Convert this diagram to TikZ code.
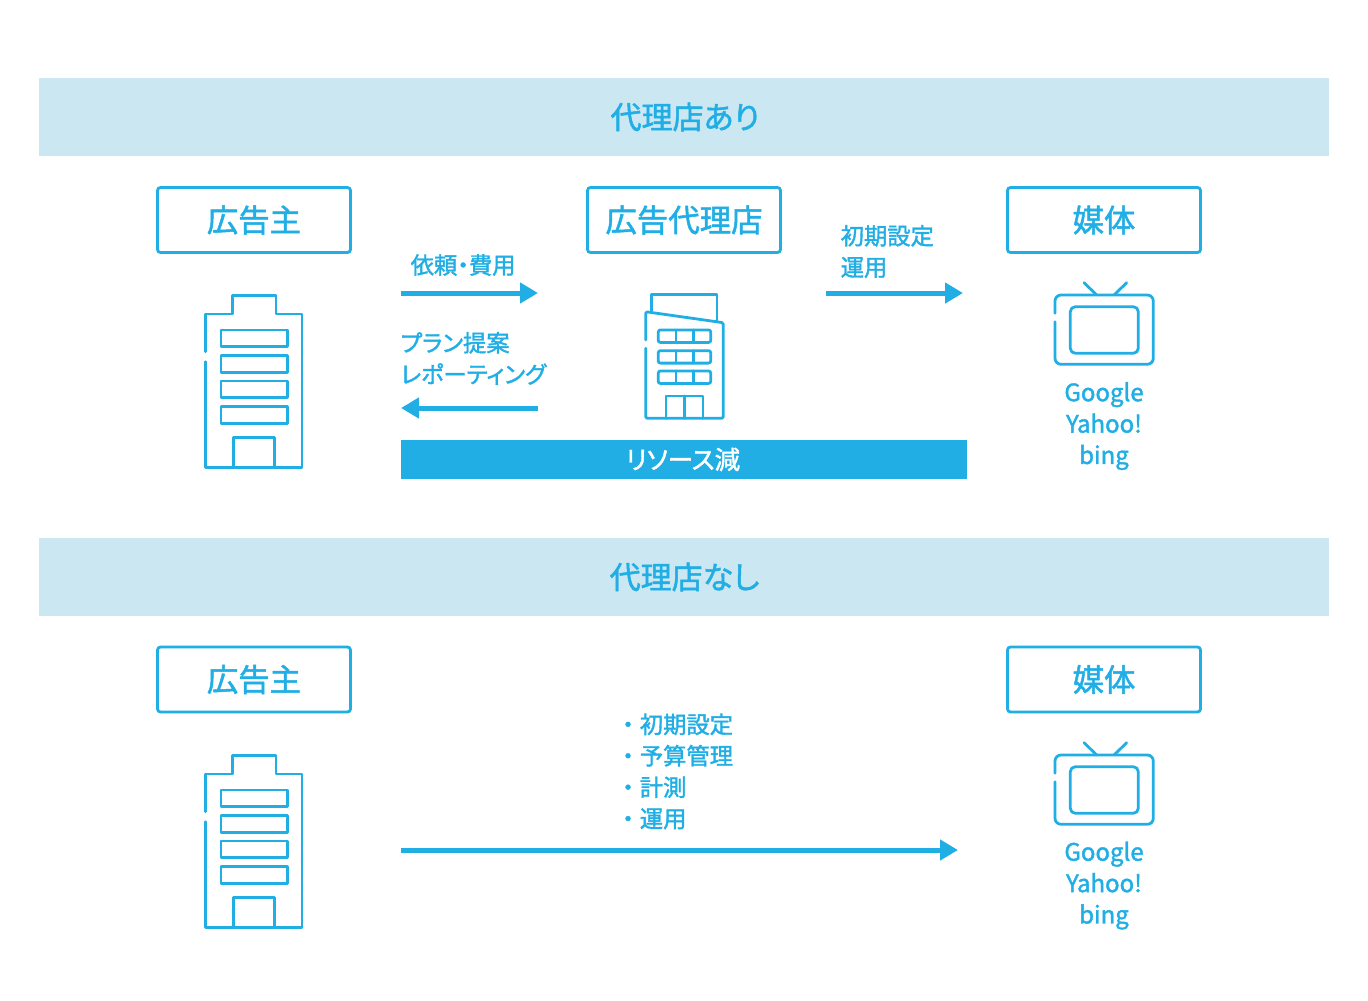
\documentclass[tikz,border=0pt]{standalone}
\usepackage{fontspec}
\setmainfont{Noto Sans CJK JP}[RawFeature={+palt}, FakeBold=1.6]
\usetikzlibrary{positioning,arrows.meta}
\definecolor{adblue}{HTML}{20AEE5}
\definecolor{adpale}{HTML}{CAE7F2}
\newcommand{\dotkern}{・\kern6pt}
\tikzset{
    band/.style={fill=adpale, text=adblue, minimum width=1290pt, minimum height=78pt, inner sep=0pt, font=\fontsize{31}{36}\selectfont},
    namebox/.style={draw=adblue, line width=2.8pt, rounded corners=3pt, text=adblue, minimum width=193pt, minimum height=65pt, inner sep=0pt, font=\fontsize{31.4}{36}\selectfont},
    lbl/.style={text=adblue, inner sep=0pt, align=left, font=\fontsize{23.3}{31.4}\selectfont},
    mediatext/.style={text=adblue, inner sep=0pt, align=center, font=\fontsize{24}{31.4}\selectfont},
    flow/.style={draw=adblue, line width=5pt, -{Triangle[length=18pt,width=20pt]}},
    icon/.style={draw=adblue, line width=2.8pt, line join=round, line cap=round},
    clienticon/.pic={
        \draw[icon] (205.7,351.7) -- (205.7,314) -- (232.3,314) -- (232.3,295.7) -- (276,295.7) -- (276,314) -- (302,314) -- (302,467.7) -- (205.7,467.7) -- (205.7,361.7);
        \foreach \wy in {330,355.7,381,406.7}
            \draw[icon] (221,\wy) rectangle (287.3,\wy+16.7);
        \draw[icon] (233.7,467.7) -- (233.7,437.3) -- (274.3,437.3) -- (274.3,467.7);
    },
    agencyicon/.pic={
        \draw[icon] (651.7,311) -- (651.7,294.3) -- (717,294.3) -- (717,320.7);
        \draw[icon, rounded corners=1.5pt] (645.7,340) -- (645.7,311.7) -- (723.3,322.7) -- (723.3,418.3) -- (645.7,418.3) -- (645.7,348.3);
        \foreach \wy in {330,350.7,371} {
            \draw[icon, rounded corners=2pt] (658.3,\wy) rectangle (710.7,\wy+12.4);
            \draw[icon] (676,\wy) -- (676,\wy+12.4);
            \draw[icon] (693.3,\wy) -- (693.3,\wy+12.4);
        }
        \draw[icon] (666,418.3) -- (666,396) -- (703,396) -- (703,418.3);
        \draw[icon] (684.3,396) -- (684.3,418.3);
    },
    tvicon/.pic={
        \draw[icon, rounded corners=6pt] (1055,313.3) -- (1055,295) -- (1153.3,295) -- (1153.3,364.3) -- (1055,364.3) -- (1055,321.7);
        \draw[icon, rounded corners=5pt] (1070.3,306.7) rectangle (1138.3,353.3);
        \draw[icon] (1096.7,295) -- (1084,282.7);
        \draw[icon] (1114,295) -- (1126.7,282.7);
    },
}
\begin{document}
\begin{tikzpicture}[x=1pt, y=-1pt]
    \useasboundingbox (0,0) rectangle (1368,1001);

    % with agency
    \node [band] (withband) at (684,117) {\kern2pt 代理店あり};
    \node [namebox] (client) at (254,220) {広告主};
    \node [namebox] (agency) at (684,220) {広告代理店};
    \node [namebox] (media) at (1104,220) {媒体};
    \pic (clientbldg) at (0,0) {clienticon};
    \pic (agencybldg) at (0,0) {agencyicon};
    \pic (mediatv) at (0,0) {tvicon};
    \node [mediatext] (medianames) at (1104,426) {Google\\Yahoo!\\bing};

    \node [lbl, anchor=west] (request) at (410.5,265) {依頼・費用};
    \coordinate (reqstart) at (401,293);
    \coordinate (reqend) at (538,293);
    \draw [flow] (reqstart) -- (reqend);

    \node [lbl, anchor=west] (proposal) at (400.5,358.5) {プラン提案\\レポーティング};
    \coordinate (repstart) at (538,408);
    \coordinate (repend) at (401,408);
    \draw [flow] (repstart) -- (repend);

    \node [lbl, anchor=west] (setup) at (840.5,251.5) {初期設定\\運用};
    \coordinate (opstart) at (826,293);
    \coordinate (opend) at (963,293);
    \draw [flow] (opstart) -- (opend);

    \node [fill=adblue, text=white, minimum width=566pt, minimum height=39pt, inner sep=0pt, font=\fontsize{25.5}{28}\selectfont] (resource) at (684,459.5) {\kern-2pt リソース減};

    % without agency
    \node [band] (noband) at (684,577) {\kern1pt 代理店なし};
    \node [namebox] (client2) at (254,679.5) {広告主};
    \node [namebox] (media2) at (1104,679.5) {媒体};
    \pic (clientbldg2) at (0,460) {clienticon};
    \pic (mediatv2) at (0,460) {tvicon};
    \node [mediatext] (medianames2) at (1104,885.5) {Google\\Yahoo!\\bing};

    \node [lbl, anchor=west] (tasks) at (622,771.5) {\dotkern 初期設定\\\dotkern 予算管理\\\dotkern 計測\\\dotkern 運用};
    \coordinate (directstart) at (401,850);
    \coordinate (directend) at (958,850);
    \draw [flow] (directstart) -- (directend);
\end{tikzpicture}
\end{document}
